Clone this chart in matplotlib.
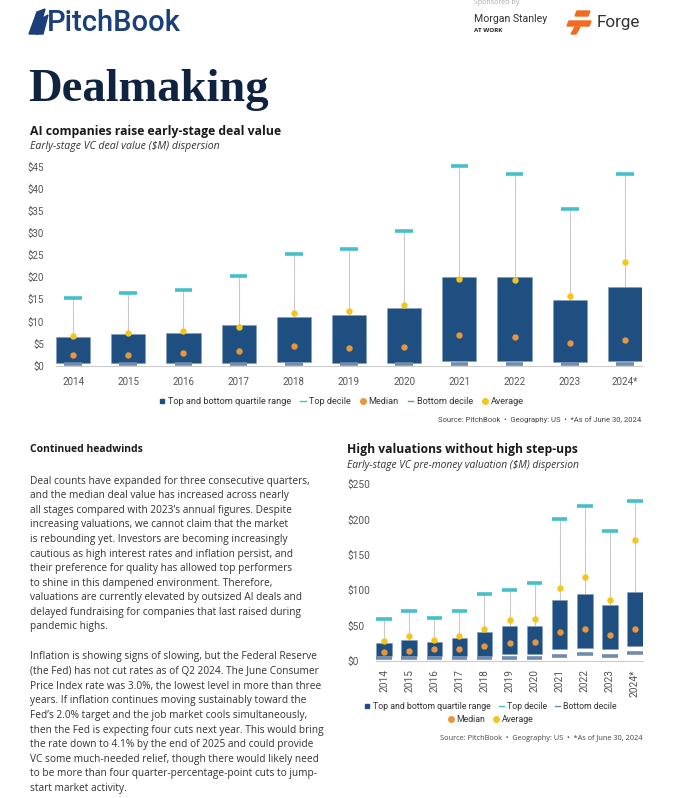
import numpy as np
import matplotlib.pyplot as plt
from matplotlib.lines import Line2D
from matplotlib.patches import Polygon

W, H = 679, 798

years = ['2014', '2015', '2016', '2017', '2018', '2019', '2020', '2021', '2022', '2023', '2024*']

# early-stage VC deal value ($M)
deal_q1 = [0.5, 0.5, 0.5, 0.6, 0.9, 0.6, 0.6, 1.1, 1.1, 0.9, 1.1]
deal_q3 = [6.6, 7.2, 7.4, 9.1, 11.0, 11.4, 13.0, 20.1, 20.1, 14.9, 17.8]
deal_top = [15.2, 16.4, 17.2, 20.3, 25.3, 26.5, 30.4, 45.2, 43.4, 35.4, 43.4]
deal_bot = [0.3, 0.3, 0.3, 0.3, 0.3, 0.3, 0.3, 0.4, 0.4, 0.3, 0.4]
deal_med = [2.5, 2.5, 2.8, 3.3, 4.5, 3.9, 4.2, 7.0, 6.4, 5.1, 5.9]
deal_avg = [6.7, 7.5, 7.8, 8.7, 12.0, 12.3, 13.7, 19.5, 19.3, 15.7, 23.5]
deal_ticks = [0, 5, 10, 15, 20, 25, 30, 35, 40, 45]

# early-stage VC pre-money valuation ($M)
val_q1 = [6.0, 6.0, 6.0, 6.5, 6.5, 9.7, 9.7, 16.6, 18.3, 16.6, 21.3]
val_q3 = [25.0, 29.8, 26.5, 32.1, 40.2, 48.7, 48.7, 86.0, 95.0, 79.4, 97.8]
val_top = [58.6, 70.4, 60.5, 70.4, 94.5, 100.1, 109.6, 200.8, 219.7, 184.2, 226.3]
val_bot = [3.8, 3.8, 3.8, 3.8, 4.0, 4.3, 4.3, 7.1, 8.8, 7.1, 11.6]
val_med = [12.8, 14.2, 16.1, 16.1, 21.3, 24.6, 26.5, 40.2, 45.3, 36.8, 45.3]
val_avg = [27.9, 35.0, 29.8, 35.0, 45.3, 57.2, 59.0, 103.4, 119.0, 86.4, 170.5]
val_ticks = [0, 50, 100, 150, 200, 250]

para1 = [
    "Deal counts have expanded for three consecutive quarters,",
    "and the median deal value has increased across nearly",
    "all stages compared with 2023\u2019s annual figures. Despite",
    "increasing valuations, we cannot claim that the market",
    "is rebounding yet. Investors are becoming increasingly",
    "cautious as high interest rates and inflation persist, and",
    "their preference for quality has allowed top performers",
    "to shine in this dampened environment. Therefore,",
    "valuations are currently elevated by outsized AI deals and",
    "delayed fundraising for companies that last raised during",
    "pandemic highs.",
]
para2 = [
    "Inflation is showing signs of slowing, but the Federal Reserve",
    "(the Fed) has not cut rates as of Q2 2024. The June Consumer",
    "Price Index rate was 3.0%, the lowest level in more than three",
    "years. If inflation continues moving sustainably toward the",
    "Fed\u2019s 2.0% target and the job market cools simultaneously,",
    "then the Fed is expecting four cuts next year. This would bring",
    "the rate down to 4.1% by the end of 2025 and could provide",
    "VC some much-needed relief, though there would likely need",
    "to be more than four quarter-percentage-point cuts to jump-",
    "start market activity.",
]

NAVY = '#1f4e80'
TEAL = '#45c0c8'
ORANGE = '#e8963c'
YELLOW = '#f4c51a'
SLATE = '#6f8cae'
WHISK = '#c9c9c9'
GRAY = '#555555'
DARK = '#0f2340'

NARROW = ['Liberation Sans Narrow', 'Roboto']
BODY = ['Open Sans', 'DejaVu Sans']

fig = plt.figure(figsize=(W / 100, H / 100), dpi=100)


def px(x, y):
    return x / W, 1 - y / H


def ftext(x, y, s, **kw):
    fx, fy = px(x, y)
    fig.text(fx, fy, s, **kw)


def draw_box(ax, q1, q3, top, bot, med, avg, deci_w, ticks, fmt):
    x = np.arange(len(years))
    ax.vlines(x, q3, top, color=WHISK, lw=0.8, zorder=1)
    ax.bar(x, np.array(q3) - np.array(q1), bottom=q1, width=0.62,
           color=NAVY, edgecolor='#7f9cc0', linewidth=0.4, zorder=2)
    ax.hlines(top, x - deci_w / 2, x + deci_w / 2, color=TEAL, lw=2.6,
              zorder=3, clip_on=False)
    ax.hlines(bot, x - deci_w / 2, x + deci_w / 2, color=SLATE, lw=2.6,
              zorder=3, clip_on=False)
    ax.plot(x, med, 'o', color=ORANGE, ms=3.6, zorder=4, clip_on=False)
    ax.plot(x, avg, 'o', color=YELLOW, ms=3.6, zorder=4, clip_on=False)
    ax.set_xlim(-0.31, len(years) - 1 + 0.31)
    ax.set_ylim(ticks[0], ticks[-1])
    ax.set_yticks(ticks)
    ax.set_yticklabels([fmt(t) for t in ticks])
    ax.set_xticks(x)
    for s in ['top', 'right', 'left']:
        ax.spines[s].set_visible(False)
    ax.spines['bottom'].set_color('#cccccc')
    ax.spines['bottom'].set_linewidth(0.8)
    ax.tick_params(length=0, colors=GRAY)
    return x


def handles():
    return {
        'q': Line2D([], [], marker='s', color=NAVY, ls='none', ms=3.5),
        'top': Line2D([], [], color=TEAL, lw=1.0),
        'med': Line2D([], [], marker='o', color=ORANGE, ls='none', ms=4),
        'bot': Line2D([], [], color=SLATE, lw=1.0),
        'avg': Line2D([], [], marker='o', color=YELLOW, ls='none', ms=4),
    }


# ---------- header ----------
logo = Polygon([px(29, 34), px(37, 12), px(45, 9), px(38, 34)], closed=True,
               transform=fig.transFigure, color='#1b3f7a')
fig.patches.append(logo)
logo2 = Polygon([px(36, 34), px(41, 19), px(48, 15), px(43, 34)], closed=True,
                transform=fig.transFigure, color='#1b3f7a')
fig.patches.append(logo2)
ftext(47, 23, 'PitchBook', fontsize=21, color='#1b3f7a', family='Roboto',
      weight='medium', va='center', ha='left')
ftext(474, 2, 'Sponsored by', fontsize=5, color='#aaaaaa', va='center',
      family=BODY)
ftext(474, 19, 'Morgan Stanley', fontsize=7.6, color='#333333', va='center',
      family=NARROW)
ftext(474, 30, 'AT WORK', fontsize=4.5, color='#222222', weight='bold',
      va='center', family=BODY)
for pts in ([(577, 11), (590, 11), (588, 16), (575, 16)],
            [(569, 21), (591, 21), (589, 26), (567, 26)],
            [(575, 27), (580, 27), (576, 34), (571, 34)]):
    fig.patches.append(Polygon([px(a, b) for a, b in pts], closed=True,
                               transform=fig.transFigure, color='#f36b21'))
ftext(597, 23, 'Forge', fontsize=12.3, color='#333333', va='center',
      family='Roboto')

ftext(28, 90, 'Dealmaking', fontsize=33.5, color=DARK, weight='bold',
      family=['Liberation Serif', 'DejaVu Serif'], va='center')

# ---------- chart 1 ----------
ftext(30, 131, 'AI companies raise early-stage deal value', fontsize=8.8,
      weight='bold', color='#1a1a1a', family=BODY, va='center')
ftext(30, 146, 'Early-stage VC deal value ($M) dispersion', fontsize=7.6,
      style='italic', color='#333333', family=BODY, va='center')

ax1 = fig.add_axes([56 / W, 1 - 365.7 / H, (642 - 56) / W, (365.7 - 166.7) / H])
draw_box(ax1, deal_q1, deal_q3, deal_top, deal_bot, deal_med, deal_avg,
         0.32, deal_ticks, lambda t: f'${t}')
ax1.set_xticklabels(years, family=NARROW, fontsize=7)
for lab in ax1.get_yticklabels():
    lab.set_family(NARROW)
    lab.set_fontsize(7)
ax1.tick_params(axis='y', pad=8.5)
ax1.tick_params(axis='x', pad=8)

h = handles()
ax1.legend([h['q'], h['top'], h['med'], h['bot'], h['avg']],
           ['Top and bottom quartile range', 'Top decile', 'Median',
            'Bottom decile', 'Average'],
           loc='center', bbox_to_anchor=(0.487, -0.18), ncol=5, frameon=False,
           handlelength=0.6, handletextpad=0.35, columnspacing=1.0,
           prop={'family': NARROW, 'size': 6.6}, labelcolor='#333333')
ftext(641, 420, 'Source: PitchBook  \u2022  Geography: US  \u2022  *As of June 30, 2024',
      fontsize=5.5, color='#444444', ha='right', va='center', family=NARROW)

# ---------- text column ----------
ftext(30, 450, 'Continued headwinds', fontsize=7.5, weight='bold',
      color='#1a1a1a', family=BODY, va='center')
for i, line in enumerate(para1):
    ftext(30, 481 + i * 14.6, line, fontsize=7.3, color='#333333',
          family=BODY, va='center')
for i, line in enumerate(para2):
    ftext(30, 657 + i * 14.6, line, fontsize=7.3, color='#333333',
          family=BODY, va='center')

# ---------- chart 2 ----------
ftext(347, 450, 'High valuations without high step-ups', fontsize=8.7,
      weight='bold', color='#1a1a1a', family=BODY, va='center')
ftext(347, 465, 'Early-stage VC pre-money valuation ($M) dispersion',
      fontsize=7.4, style='italic', color='#333333', family=BODY, va='center')

ax2 = fig.add_axes([376.4 / W, 1 - 660.7 / H, (642.7 - 376.4) / W,
                    (660.7 - 484.3) / H])
draw_box(ax2, val_q1, val_q3, val_top, val_bot, val_med, val_avg,
         0.62, val_ticks, lambda t: f'${t}')
ax2.set_xticklabels(years, rotation=90, family=NARROW, fontsize=7.3)
for lab in ax2.get_yticklabels():
    lab.set_family(NARROW)
    lab.set_fontsize(7.3)
    lab.set_horizontalalignment('left')
ax2.tick_params(axis='y', pad=21)
ax2.tick_params(axis='x', pad=6)

h = handles()
leg_a = ax2.legend([h['q'], h['top'], h['bot']],
                   ['Top and bottom quartile range', 'Top decile', 'Bottom decile'],
                   loc='center', bbox_to_anchor=(0.43, -0.26), ncol=3,
                   frameon=False, handlelength=0.6, handletextpad=0.35,
                   columnspacing=0.9, prop={'family': NARROW, 'size': 6.3},
                   labelcolor='#333333')
ax2.add_artist(leg_a)
h = handles()
ax2.legend([h['med'], h['avg']], ['Median', 'Average'], loc='center',
           bbox_to_anchor=(0.43, -0.335), ncol=2, frameon=False,
           handlelength=0.6, handletextpad=0.35, columnspacing=0.9,
           prop={'family': NARROW, 'size': 6.3}, labelcolor='#333333')
ftext(642, 739, 'Source: PitchBook  \u2022  Geography: US  \u2022  *As of June 30, 2024',
      fontsize=5.3, color='#444444', ha='right', va='center', family=BODY)

fig.savefig('out.png', dpi=100, facecolor='white')
